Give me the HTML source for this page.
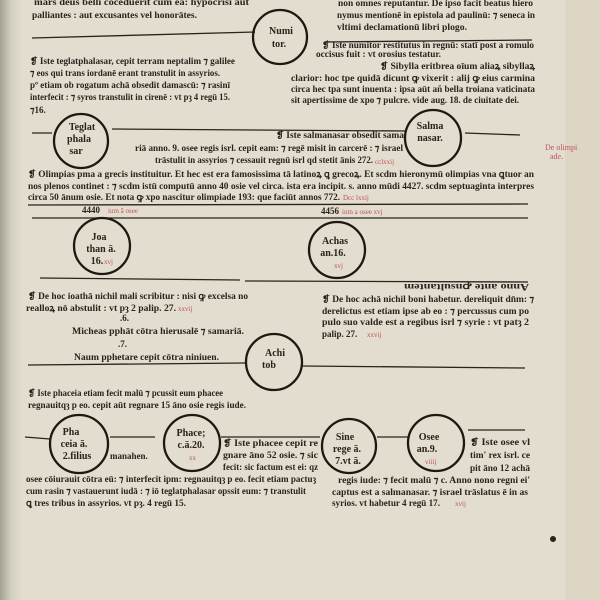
<!DOCTYPE html>
<html><head><meta charset="utf-8"><style>
html,body{margin:0;padding:0;background:#e3ddd0;}
svg{display:block}
text{font-family:"Liberation Serif",serif;fill:#2a221c;font-weight:bold}
.s{font-size:9px}
.c{font-size:10px;text-anchor:middle}
.r{fill:#c0525a;font-size:7px;font-weight:normal}
</style></head><body>
<svg width="600" height="600" viewBox="0 0 600 600" xmlns="http://www.w3.org/2000/svg">
<defs><linearGradient id="lg" x1="0" x2="1"><stop offset="0" stop-color="#a3a28f"/><stop offset="0.5" stop-color="#d3cfbf"/><stop offset="1" stop-color="#e3ddd0"/></linearGradient></defs>
<rect width="600" height="600" fill="#e3ddd0"/>
<rect width="22" height="600" fill="url(#lg)"/>
<rect x="565" width="35" height="600" fill="#ded6c4"/>
<g stroke="#2a221c" stroke-width="1.3" fill="none">
<path d="M32 38 L255 32"/>
<path d="M325 42 L532 40"/>
<path d="M32 133 L52 133 M112 129 L405 131 M465 133 L520 135"/>
<path d="M28 205 L528 204"/>
<path d="M32 218 L528 218"/>
<path d="M40 278 L240 280 M245 281 L528 282"/>
<path d="M28 365 L245 363 M302 366 L525 368"/>
<path d="M25 437 L50 439 M110 437 L155 437 M221 437 L320 437 M377 437 L408 437"/>
<path d="M468 430 L525 430"/>
</g>
<g stroke="#1e1812" stroke-width="2.3" fill="none">
<circle cx="280" cy="37" r="27"/>
<circle cx="81" cy="141" r="27"/>
<circle cx="433" cy="138" r="28"/>
<circle cx="102" cy="246" r="28"/>
<circle cx="337" cy="250" r="28"/>
<circle cx="274" cy="362" r="28"/>
<circle cx="79" cy="444" r="29"/>
<circle cx="192" cy="443" r="28"/>
<circle cx="349" cy="446" r="27"/>
<circle cx="436" cy="443" r="28"/>
</g>
<text class="c" x="281" y="34">Numi</text><text class="c" x="279" y="47">tor.</text>
<text class="c" x="82" y="130">Teglat</text><text class="c" x="79" y="142">phala</text><text class="c" x="76" y="154">sar</text>
<text class="c" x="430" y="129">Salma</text><text class="c" x="430" y="141">nasar.</text>
<text class="c" x="99" y="240">Joa</text><text class="c" x="101" y="252">than ā.</text><text class="c" x="97" y="264">16.</text><text class="r" x="104" y="264">xvj</text>
<text class="c" x="335" y="244">Achas</text><text class="c" x="333" y="256">an.16.</text><text class="r" x="334" y="268">xvj</text>
<text class="c" x="275" y="356">Achi</text><text class="c" x="269" y="368">tob</text>
<text class="c" x="71" y="435">Pha</text><text class="c" x="74" y="447">ceia ā.</text><text class="c" x="77" y="459">2.filius</text>
<text class="c" x="191" y="436">Phace;</text><text class="c" x="191" y="448">c.ā.20.</text><text class="r" x="189" y="460">xx</text>
<text class="c" x="345" y="440">Sine</text><text class="c" x="347" y="452">rege ā.</text><text class="c" x="348" y="464">7.vt ā.</text>
<text class="c" x="429" y="440">Osee</text><text class="c" x="427" y="452">an.9.</text><text class="r" x="425" y="464">viiij</text>
<g class="s">
<text x="34" y="5" textLength="215" lengthAdjust="spacingAndGlyphs">mars deus belli coceduerit cum ea: hypocrisi aut</text>
<text x="32" y="18" textLength="165" lengthAdjust="spacingAndGlyphs">palliantes : aut excusantes vel honorātes.</text>
<text x="338" y="6" textLength="195" lengthAdjust="spacingAndGlyphs">non omnes reputantur. De ipso facit beatus hiero</text>
<text x="337" y="18" textLength="198" lengthAdjust="spacingAndGlyphs">nymus mentionē in epistola ad paulinū: ⁊ seneca in</text>
<text x="337" y="30" textLength="130" lengthAdjust="spacingAndGlyphs">vltimi declamationū libri plogo.</text>
<text x="322" y="48" textLength="212" lengthAdjust="spacingAndGlyphs">❡ Iste numitor restitutus in regnū: statī post a romulo</text>
<text x="316" y="57" textLength="125" lengthAdjust="spacingAndGlyphs">occisus fuit : vt orosius testatur.</text>
<text x="30" y="64" textLength="205" lengthAdjust="spacingAndGlyphs">❡ Iste teglatphalasar, cepit terram neptalim ⁊ galilee</text>
<text x="30" y="76" textLength="190" lengthAdjust="spacingAndGlyphs">⁊ eos qui trans iordanē erant transtulit in assyrios.</text>
<text x="30" y="88" textLength="200" lengthAdjust="spacingAndGlyphs">pº etiam ob rogatum achā obsedit damascū: ⁊ rasinī</text>
<text x="30" y="100" textLength="200" lengthAdjust="spacingAndGlyphs">interfecit : ⁊ syros transtulit in cirenē : vt pȝ 4 regū 15.</text>
<text x="30" y="113">⁊16.</text>
<text x="380" y="69" textLength="155" lengthAdjust="spacingAndGlyphs">❡ Sibylla eritbrea oīum aliaꝝ sibyllaꝝ</text>
<text x="291" y="81" textLength="244" lengthAdjust="spacingAndGlyphs">clarior: hoc tpe quidā dicunt ꝙ vixerit : alij ꝙ eius carmina</text>
<text x="291" y="92" textLength="244" lengthAdjust="spacingAndGlyphs">circa hec tpa sunt inuenta : ipsa aūt añ bella troiana vaticinata</text>
<text x="291" y="103" textLength="228" lengthAdjust="spacingAndGlyphs">sit apertissime de xpo ⁊ pulcre. vide aug. 18. de ciuitate dei.</text>
<text x="276" y="138" textLength="128" lengthAdjust="spacingAndGlyphs">❡ Iste salmanasar obsedit sama</text>
<text x="135" y="151" textLength="268" lengthAdjust="spacingAndGlyphs">riā anno. 9. osee regis isrl. cepit eam: ⁊ regē misit in carcerē : ⁊ israel</text>
<text x="155" y="163" textLength="218" lengthAdjust="spacingAndGlyphs">trāstulit in assyrios ⁊ cessauit regnū isrl qd stetit ānis 272.</text>
<text x="28" y="177" textLength="506" lengthAdjust="spacingAndGlyphs">❡ Olimpias pma a grecis instituitur. Et hec est era famosissima tā latinoꝝ ꝗ grecoꝝ. Et scdm hieronymū olimpias vna ꝗtuor an</text>
<text x="28" y="189" textLength="506" lengthAdjust="spacingAndGlyphs">nos plenos continet : ⁊ scdm istū computū anno 40 osie vel circa. ista era incipit. s. anno mūdi 4427. scdm septuaginta interpres</text>
<text x="28" y="200" textLength="312" lengthAdjust="spacingAndGlyphs">circa 50 ānum osie. Et nota ꝙ xpo nascitur olimpiade 193: que faciūt annos 772.</text>
<text x="82" y="213">4440</text><text x="321" y="214">4456</text>
<text x="405" y="290" textLength="125" lengthAdjust="spacingAndGlyphs" transform="rotate(180 467 287)">Anno ante ꝓnsultantem</text>
<text x="28" y="299" textLength="220" lengthAdjust="spacingAndGlyphs">❡ De hoc ioathā nichil mali scribitur : nisi ꝙ excelsa no</text>
<text x="26" y="311" textLength="150" lengthAdjust="spacingAndGlyphs">realloꝝ nō abstulit : vt pȝ 2 palip. 27.</text>
<text x="120" y="321">.6.</text>
<text x="72" y="334" textLength="172" lengthAdjust="spacingAndGlyphs">Micheas pphāt cōtra hierusalē ⁊ samariā.</text>
<text x="118" y="347">.7.</text>
<text x="74" y="360" textLength="145" lengthAdjust="spacingAndGlyphs">Naum pphetare cepit cōtra niniuen.</text>
<text x="322" y="302" textLength="212" lengthAdjust="spacingAndGlyphs">❡ De hoc achā nichil boni habetur. dereliquit dn̄m: ⁊</text>
<text x="322" y="314" textLength="207" lengthAdjust="spacingAndGlyphs">derelictus est etiam ipse ab eo : ⁊ percussus cum po</text>
<text x="322" y="325" textLength="207" lengthAdjust="spacingAndGlyphs">pulo suo valde est a regibus isrl ⁊ syrie : vt patȝ 2</text>
<text x="322" y="337">palip. 27.</text>
<text x="28" y="396" textLength="195" lengthAdjust="spacingAndGlyphs">❡ Iste phaceia etiam fecit malū ⁊ pcussit eum phacee</text>
<text x="28" y="408" textLength="218" lengthAdjust="spacingAndGlyphs">regnauitqȝ p eo. cepit aūt regnare 15 āno osie regis iude.</text>
<text x="110" y="459">manahen.</text>
<text x="223" y="446" textLength="95" lengthAdjust="spacingAndGlyphs">❡ Iste phacee cepit re</text>
<text x="223" y="458" textLength="95" lengthAdjust="spacingAndGlyphs">gnare āno 52 osie. ⁊ sic</text>
<text x="223" y="470" textLength="95" lengthAdjust="spacingAndGlyphs">fecit: sic factum est ei: qz</text>
<text x="26" y="482" textLength="290" lengthAdjust="spacingAndGlyphs">osee cōiurauit cōtra eū: ⁊ interfecit ipm: regnauitqȝ p eo. fecit etiam pactuȝ</text>
<text x="26" y="494" textLength="280" lengthAdjust="spacingAndGlyphs">cum rasin ⁊ vastauerunt iudā : ⁊ iō teglatphalasar opssit eum: ⁊ transtulit</text>
<text x="26" y="506" textLength="160" lengthAdjust="spacingAndGlyphs">ꝗ tres tribus in assyrios. vt pȝ. 4 regū 15.</text>
<text x="470" y="445" textLength="60" lengthAdjust="spacingAndGlyphs">❡ Iste osee vl</text>
<text x="470" y="458" textLength="60" lengthAdjust="spacingAndGlyphs">tim' rex isrl. ce</text>
<text x="470" y="471" textLength="60" lengthAdjust="spacingAndGlyphs">pit āno 12 achā</text>
<text x="338" y="483" textLength="192" lengthAdjust="spacingAndGlyphs">regis iude: ⁊ fecit malū ⁊ c. Anno nono regni ei'</text>
<text x="332" y="495" textLength="196" lengthAdjust="spacingAndGlyphs">captus est a salmanasar. ⁊ israel trāslatus ē in as</text>
<text x="332" y="506" textLength="108" lengthAdjust="spacingAndGlyphs">syrios. vt habetur 4 regū 17.</text>
</g>
<text class="r" x="545" y="150" style="font-size:8px">De olimpi</text>
<text class="r" x="550" y="159" style="font-size:8px">ade.</text>
<text class="r" x="375" y="164">cclxxij</text>
<text class="r" x="343" y="200">Dcc lxxij</text>
<text class="r" x="108" y="213">ium ā osee</text>
<text class="r" x="342" y="214">ium a osee xvj</text>
<text class="r" x="178" y="311">xxvij</text>
<text class="r" x="367" y="337">xxvij</text>
<text class="r" x="455" y="506">xvij</text>
<circle cx="553" cy="539" r="3" fill="#2a221c"/>
</svg>
</body></html>
